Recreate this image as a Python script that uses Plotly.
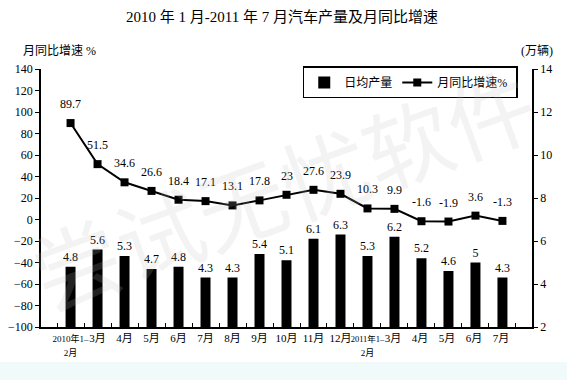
import plotly.graph_objects as go

categories = ["<span style='font-size:9px'>2010年1–</span><br><span style='font-size:9px'>2月</span>",
              "3月", "4月", "5月", "6月", "7月", "8月", "9月", "10月", "11月", "12月",
              "<span style='font-size:8.5px'>2011年1–</span><br><span style='font-size:9px'>2月</span>",
              "3月 ", "4月 ", "5月 ", "6月 ", "7月 "]
daily_output = [4.8, 5.6, 5.3, 4.7, 4.8, 4.3, 4.3, 5.4, 5.1, 6.1, 6.3, 5.3, 6.2, 5.2, 4.6, 5, 4.3]
yoy_growth = [89.7, 51.5, 34.6, 26.6, 18.4, 17.1, 13.1, 17.8, 23, 27.6, 23.9, 10.3, 9.9, -1.6, -1.9, 3.6, -1.3]
left_ticks = list(range(-100, 141, 20))
right_ticks = list(range(2, 15, 2))

FONT = "Liberation Serif, 'Noto Sans CJK SC', serif"

fig = go.Figure()
fig.add_trace(go.Bar(
    x=categories, y=daily_output, name="日均产量", yaxis="y2",
    marker=dict(color="black", line=dict(width=0)), width=0.37,
    text=[f"{v:g}" for v in daily_output], textposition="outside", constraintext="none",
    textfont=dict(size=12, color="black", family=FONT), cliponaxis=False,
))
fig.add_trace(go.Scatter(
    x=categories, y=yoy_growth, name="月同比增速% ", yaxis="y",
    mode="lines+markers", line=dict(color="black", width=2),
    marker=dict(symbol="square", size=8, color="black"),
))

annotations = [
    dict(x=c, y=v, xref="x", yref="y", text=f"{v:g}", showarrow=False,
         yshift=19, font=dict(size=12, color="black", family=FONT))
    for c, v in zip(categories, yoy_growth)
]
annotations += [
    dict(text="2010 年 1 月-2011 年 7 月汽车产量及月同比增速", x=0.49, xref="paper", y=1.2, yref="paper",
         showarrow=False, font=dict(size=15, color="black", family=FONT), xanchor="center", yanchor="middle"),
    dict(text="月同比增速 %", x=-0.04, xref="paper", y=1.07, yref="paper", xanchor="left", yanchor="middle",
         showarrow=False, font=dict(size=12, color="black", family=FONT)),
    dict(text="(万辆)", x=1.047, xref="paper", y=1.07, yref="paper", xanchor="right", yanchor="middle",
         showarrow=False, font=dict(size=12, color="black", family=FONT)),
    dict(text="尝试无忧软件", x=0.49, xref="paper", y=0.55, yref="paper", showarrow=False,
         textangle=-20, font=dict(size=88, color="rgba(190,190,190,0.18)", family="'Noto Sans CJK SC'")),
]

fig.update_layout(
    width=567, height=380,
    margin=dict(l=41, r=35, t=69, b=53, autoexpand=False),
    paper_bgcolor="white", plot_bgcolor="rgba(0,0,0,0)",
    font=dict(family=FONT, size=12, color="black"),
    showlegend=True,
    legend=dict(orientation="h", x=0.971, xanchor="right", y=1.01, yanchor="top",
                bordercolor="black", borderwidth=1.5, bgcolor="white",
                font=dict(size=12, family=FONT), traceorder="normal"),
    xaxis=dict(type="category", showline=True, linecolor="black", linewidth=1.5,
               ticks="inside", tickson="boundaries", ticklen=4, tickcolor="black",
               tickfont=dict(size=11, family=FONT), tickangle=0, showgrid=False, zeroline=False,
               automargin=False),
    yaxis=dict(range=[-100, 140], tickvals=left_ticks, showline=True, linecolor="black", linewidth=1.5,
               ticks="outside", ticklen=4, tickcolor="black", showgrid=False, zeroline=False,
               tickfont=dict(size=12, family=FONT), automargin=False),
    yaxis2=dict(range=[2, 14], tickvals=right_ticks, overlaying="y", side="right", showline=True,
                linecolor="black", linewidth=1.5, ticks="outside", ticklen=4, tickcolor="black",
                showgrid=False, zeroline=False, tickfont=dict(size=12, family=FONT), automargin=False),
    annotations=annotations,
    shapes=[dict(type="rect", xref="paper", yref="paper", x0=-0.2, x1=1.2, y0=-0.136, y1=-0.3,
                 fillcolor="#f1fafa", line=dict(width=0), layer="below")],
)

fig.write_html("out.html", config={"displayModeBar": False},
               post_script="document.body.style.margin='0px';")
